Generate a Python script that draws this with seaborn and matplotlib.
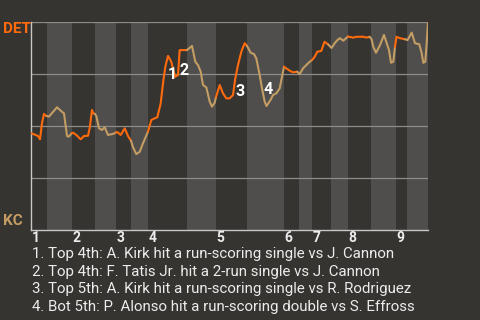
import matplotlib
matplotlib.use("Agg")
import matplotlib.pyplot as plt
import matplotlib.transforms as mtransforms
import seaborn as sns
import pandas as pd

# Game progress (plate-appearance timeline) and Detroit win probability (%)
progress = [
    0.5, 7, 9, 11, 13, 15.3, 16,
    18, 26, 31.3, 33, 36, 37.7, 41,
    42, 45.3, 49.7, 53, 57, 58.7, 61, 62.3, 64,
    65.3, 68, 71, 73.7, 77, 82, 85,
    86.3, 89.7, 93.7, 97, 100,
    102, 105.3, 108.7, 112, 117,
    120.3, 123.7, 126.3, 129.7, 132, 134.3, 137, 140.3, 142.7, 144.3, 147, 148.7, 151, 156,
    161, 164.3, 167, 169.7, 172, 175.3, 178.7, 181, 183.7, 185,
    188.7, 192, 195.3, 198.7, 202, 204.3, 207, 210.3, 213.7, 216,
    219.7, 223, 225.3, 228.7, 231, 233.7, 235.5, 239.5, 242, 245.3, 248.7, 251, 253,
    255.3, 258.7, 262, 266.3, 268.7,
    272, 275.3, 278.7, 281,
    283.7, 286.3, 290.3, 293.5, 297.2, 300.5,
    304, 307, 309, 312.3, 317,
    322.3, 325.7, 332.3, 335.7, 338.5, 340.5,
    342.3, 345, 349, 353, 355.7, 358, 360, 362.3, 364, 365.5,
    369, 374, 376.5,
    380.7, 384, 388.3, 390.7, 392.3, 394.3, 395.7, 397,
]
det_wp = [
    46.5, 45.2, 43.6, 51.4, 55.8, 54.8, 54.8,
    54.5, 59.0, 56.7, 56.1, 45.2, 44.9, 46.6,
    46.8, 45.7, 43.6, 45.2, 45.3, 49.0, 57.7, 56.1, 55.8,
    54.8, 48.9, 48.1, 49.4, 45.7, 46.2, 46.9,
    47.1, 45.7, 48.9, 45.2, 42.9,
    39.8, 36.5, 37.6, 41.7, 47.3,
    52.9, 53.7, 54.2, 60.9, 70.5, 78.5, 83.7, 80.9, 76.1, 73.7, 74.5, 86.5, 86.5, 86.5,
    88.5, 80.9, 79.3, 76.1, 69.7, 68.6, 61.7, 59.3, 61.2, 63.9,
    69.7, 65.7, 63.3, 63.3, 64.9, 72.9, 79.3, 85.7, 89.8, 88.5,
    85.2, 84.6, 82.5, 74.5, 68.1, 61.7, 59.6, 62.5, 64.9, 65.7, 68.1, 73.7, 78.5,
    77.7, 76.6, 75.8, 76.1, 74.9,
    77.7, 79.3, 80.9, 81.7,
    83.3, 85.7, 86.1, 90.5, 89.2, 87.5,
    90.0, 91.6, 92.2, 91.0, 93.0,
    92.5, 92.9, 92.9, 92.5, 92.9, 91.8,
    88.1, 85.2, 88.9, 93.8, 89.8, 86.5, 80.4, 80.9, 88.1, 92.9,
    92.2, 91.7, 91.3,
    94.9, 89.8, 89.3, 85.0, 80.4, 80.9, 89.8, 100.0,
]

# Start of each half-inning on the progress axis (top 1st, bottom 1st, ...)
half_starts = [0, 16, 41, 64, 85, 100, 117, 156, 185, 216, 253, 268, 281, 300, 317, 340, 365, 376]
game_end = 397
inning_labels = ["1", "2", "3", "4", "5", "6", "7", "8", "9"]

# Key plays
event_tags = ["1", "2", "3", "4"]
tag_x = [141, 153.5, 209, 237.3]
tag_wp = [74.8, 76.9, 66.8, 67.5]
event_notes = [
    "1. Top 4th: A. Kirk hit a run-scoring single vs J. Cannon",
    "2. Top 4th: F. Tatis Jr. hit a 2-run single vs J. Cannon",
    "3. Top 5th: A. Kirk hit a run-scoring single vs R. Rodriguez",
    "4. Bot 5th: P. Alonso hit a run-scoring double vs S. Effross",
]

BG = "#363431"
BAND = "#4f4e4c"
DET_COLOR = "#ff6a0d"
KC_COLOR = "#c39d63"
GRID = "#8c8c8a"
AXIS = "#c8c8c6"
TEXT = "#ececec"

sns.set_theme(style="dark")
plt.rcParams["font.family"] = ["Roboto", "DejaVu Sans"]

fig = plt.figure(figsize=(4.8, 3.2), dpi=100, facecolor=BG)
ax = fig.add_axes([31 / 480, 1 - 230 / 320, 397 / 480, 208 / 320])
ax.set_facecolor(BG)

# Alternating half-inning bands: top halves dark, bottom halves light
bounds = half_starts + [game_end]
for i in range(len(half_starts)):
    if i % 2 == 1:
        ax.axvspan(bounds[i], bounds[i + 1], color=BAND, lw=0, zorder=0)

for level in (25, 50, 75, 100):
    ax.axhline(level, color=GRID, lw=0.9, zorder=1)

df = pd.DataFrame({"progress": progress, "det_wp": det_wp})
df["half"] = [max(sum(1 for s in half_starts if s < x) - 1, 0) for x in progress]

for h in range(len(half_starts)):
    seg = df[df["half"] == h]
    if seg.empty:
        continue
    prev = df[df["half"] < h]
    if not prev.empty:
        seg = pd.concat([prev.iloc[[-1]], seg])
    color = DET_COLOR if h % 2 == 0 else KC_COLOR
    sns.lineplot(data=seg, x="progress", y="det_wp", ax=ax, color=color,
                 lw=1.5, sort=False, estimator=None, legend=False, zorder=3)

for t, x, y in zip(event_tags, tag_x, tag_wp):
    ax.text(x, y, t, color="white", fontsize=11.5, fontweight="bold",
            ha="center", va="center", zorder=4)

ax.set_xlim(0, game_end)
ax.set_ylim(0, 100)
ax.set_xlabel("")
ax.set_ylabel("")
ax.set_xticks([])
ax.set_yticks([])
for side in ("top", "right"):
    ax.spines[side].set_visible(False)
for side in ("left", "bottom"):
    ax.spines[side].set_visible(True)
    ax.spines[side].set_color(AXIS)
    ax.spines[side].set_linewidth(1.0)

blend = mtransforms.blended_transform_factory(ax.transData, ax.transAxes)
tops = half_starts[0::2]
for lab, x in zip(inning_labels, tops):
    ax.text(x + 0.8, -11.7 / 208, lab, transform=blend, color=TEXT,
            fontsize=10, fontweight="bold", ha="left", va="baseline")

fig.text(2.5 / 480, 1 - 33.3 / 320, "DET", color=DET_COLOR, fontsize=11,
         fontweight="bold", ha="left", va="baseline")
fig.text(2.5 / 480, 1 - 225 / 320, "KC", color=KC_COLOR, fontsize=11,
         fontweight="bold", ha="left", va="baseline")

for i, note in enumerate(event_notes):
    fig.text(31.5 / 480, 1 - (258 + 17.7 * i) / 320, note, color=TEXT,
             fontsize=10.8, ha="left", va="baseline")

fig.savefig("out.png", dpi=100, facecolor=BG)
